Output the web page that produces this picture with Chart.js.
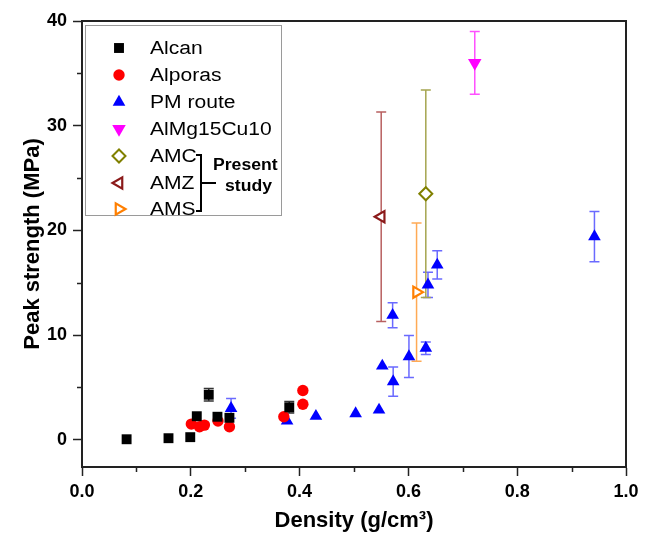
<!DOCTYPE html>
<html>
<head>
<meta charset="utf-8">
<script src="https://cdn.jsdelivr.net/npm/chart.js@4.4.1/dist/chart.umd.min.js"></script>
<style>
  html, body { margin: 0; padding: 0; background: #fff; }
  #wrap { width: 651px; height: 535px; }
</style>
</head>
<body>
<div id="wrap"><canvas id="chart" width="651" height="535"></canvas></div>
<script>
// Peak strength vs density for Al foams (scatter with error bars)
const FONT = "'Liberation Sans', Arial, Helvetica, sans-serif";

const ALCAN_X = [0.082, 0.159, 0.199, 0.211, 0.233, 0.249, 0.271, 0.381];
const ALCAN_Y = [0.05, 0.15, 0.25, 2.25, 4.3, 2.2, 2.1, 3.1];
const ALCAN_ERR = [0, 0, 0, 0, 0.6, 0, 0, 0.55];

const ALPORAS_X = [0.201, 0.216, 0.225, 0.25, 0.271, 0.371, 0.406, 0.406];
const ALPORAS_Y = [1.5, 1.25, 1.4, 1.8, 1.25, 2.2, 4.7, 3.4];

const PM_X = [0.274, 0.377, 0.43, 0.503, 0.546, 0.552, 0.572, 0.571, 0.601, 0.632, 0.636, 0.653, 0.942];
const PM_Y = [3.0, 1.8, 2.25, 2.5, 2.85, 7.05, 5.55, 11.9, 7.95, 8.75, 14.8, 16.7, 19.4];
const PM_ERR = [0.95, 0, 0, 0, 0, 0, 1.4, 1.2, 2.0, 0.6, 1.2, 1.35, 2.4];

const MG_X = [0.722], MG_Y = [36.0], MG_ERR = [3.0];
const AMC_X = [0.632], AMC_Y = [23.5], AMC_ERR = [9.9];
const AMZ_X = [0.55], AMZ_Y = [21.3], AMZ_ERR = [10.0];
const AMS_X = [0.615], AMS_Y = [14.1], AMS_ERR = [6.6];

const X_TICKS = [0, 0.1, 0.2, 0.3, 0.4, 0.5, 0.6, 0.7, 0.8, 0.9, 1.0];
const X_LABELS = ['0.0', '', '0.2', '', '0.4', '', '0.6', '', '0.8', '', '1.0'];
const Y_TICKS = [0, 5, 10, 15, 20, 25, 30, 35, 40];
const Y_LABELS = ['0', '', '10', '', '20', '', '30', '', '40'];

function pts(xs, ys) { return xs.map((x, i) => ({ x: x, y: ys[i] })); }

const datasets = [
  { label: 'Alcan', data: pts(ALCAN_X, ALCAN_Y), errors: ALCAN_ERR, errorColor: '#333',
    pointStyle: 'rect', pointRadius: 7, backgroundColor: '#000', borderColor: '#000', borderWidth: 0 },
  { label: 'Alporas', data: pts(ALPORAS_X, ALPORAS_Y),
    pointStyle: 'circle', pointRadius: 5.7, backgroundColor: '#ff0000', borderColor: '#ff0000', borderWidth: 0 },
  { label: 'PM route', data: pts(PM_X, PM_Y), errors: PM_ERR, errorColor: '#6a6aff',
    pointStyle: 'triangle', pointRadius: 7.3, backgroundColor: '#0000ff', borderColor: '#0000ff', borderWidth: 0 },
  { label: 'AlMg15Cu10', data: pts(MG_X, MG_Y), errors: MG_ERR, errorColor: '#ff50ff',
    pointStyle: 'triangle', pointRotation: 180, pointRadius: 7.8, backgroundColor: '#ff00ff', borderColor: '#ff00ff', borderWidth: 0 },
  { label: 'AMC', data: pts(AMC_X, AMC_Y), errors: AMC_ERR, errorColor: '#a5a550',
    pointStyle: 'rectRot', pointRadius: 6.5, backgroundColor: '#fff', borderColor: '#808000', borderWidth: 2 },
  { label: 'AMZ', data: pts(AMZ_X, AMZ_Y), errors: AMZ_ERR, errorColor: '#b86060',
    pointStyle: 'triangle', pointRotation: -90, pointRadius: 6.5, backgroundColor: '#fff', borderColor: '#8b1a1a', borderWidth: 2.2 },
  { label: 'AMS', data: pts(AMS_X, AMS_Y), errors: AMS_ERR, errorColor: '#ffaa55',
    pointStyle: 'triangle', pointRotation: 90, pointRadius: 6.5, backgroundColor: '#fff', borderColor: '#ff7f00', borderWidth: 2.2 },
];

// vertical error bars, drawn under the markers
const errorBars = {
  id: 'errorBars',
  beforeDatasetsDraw(chart) {
    const ctx = chart.ctx, xs = chart.scales.x, ys = chart.scales.y;
    ctx.save();
    ctx.lineWidth = 1.5;
    chart.data.datasets.forEach(ds => {
      if (!ds.errors) return;
      ctx.strokeStyle = ds.errorColor;
      ds.data.forEach((p, i) => {
        const e = ds.errors[i];
        if (!e) return;
        const x = xs.getPixelForValue(p.x);
        const y1 = ys.getPixelForValue(p.y + e), y2 = ys.getPixelForValue(p.y - e);
        ctx.beginPath();
        ctx.moveTo(x, y1); ctx.lineTo(x, y2);
        ctx.moveTo(x - 5, y1); ctx.lineTo(x + 5, y1);
        ctx.moveTo(x - 5, y2); ctx.lineTo(x + 5, y2);
        ctx.stroke();
      });
    });
    ctx.restore();
  }
};

// short minor ticks + top/right frame
const frame = {
  id: 'frame',
  afterDraw(chart) {
    const ctx = chart.ctx, a = chart.chartArea;
    const xs = chart.scales.x, ys = chart.scales.y;
    ctx.save();
    ctx.strokeStyle = '#222';
    ctx.lineWidth = 1.5;
    ctx.beginPath();
    X_TICKS.forEach((v, i) => {
      if (X_LABELS[i]) return;
      const x = Math.round(xs.getPixelForValue(v)) + 0.5;
      ctx.moveTo(x, a.bottom); ctx.lineTo(x, a.bottom + 5);
    });
    Y_TICKS.forEach((v, i) => {
      if (Y_LABELS[i]) return;
      const y = Math.round(ys.getPixelForValue(v)) + 0.5;
      ctx.moveTo(a.left, y); ctx.lineTo(a.left - 5, y);
    });
    ctx.stroke();
    ctx.lineWidth = 2;
    ctx.beginPath();
    ctx.moveTo(a.left, a.top); ctx.lineTo(a.right, a.top); ctx.lineTo(a.right, a.bottom);
    ctx.stroke();
    ctx.restore();
  }
};

// text a little wider than the font, as in the source figure
function wideText(ctx, txt, x, y, sx) {
  ctx.save();
  ctx.translate(x, y);
  ctx.scale(sx, 1);
  ctx.fillText(txt, 0, 0);
  ctx.restore();
}

// boxed legend in the upper left with the "Present study" bracket
const boxLegend = {
  id: 'boxLegend',
  afterDraw(chart) {
    const ctx = chart.ctx;
    const left = 85.5, top = 25.5, right = 281.5, bottom = 215.5;
    const rows = [48, 75, 102, 129, 156, 183, 209];
    ctx.save();
    ctx.strokeStyle = '#9a9a9a';
    ctx.lineWidth = 1;
    ctx.strokeRect(left, top, right - left, bottom - top);
    ctx.font = '18px ' + FONT;
    ctx.textBaseline = 'middle';
    ctx.textAlign = 'left';
    chart.data.datasets.forEach((ds, i) => {
      ctx.fillStyle = ds.backgroundColor;
      ctx.strokeStyle = ds.borderColor;
      ctx.lineWidth = ds.borderWidth;
      if (Chart.helpers && Chart.helpers.drawPoint) {
        Chart.helpers.drawPoint(ctx, {
          pointStyle: ds.pointStyle, rotation: ds.pointRotation || 0,
          radius: ds.pointRadius, borderWidth: ds.borderWidth
        }, 119, rows[i]);
      }
      ctx.fillStyle = '#000';
      wideText(ctx, ds.label, 150, rows[i] + 1, 1.17);
    });
    // bracket
    ctx.strokeStyle = '#000';
    ctx.lineWidth = 2;
    ctx.beginPath();
    ctx.moveTo(196, 155); ctx.lineTo(201, 155); ctx.lineTo(201, 211); ctx.lineTo(196, 211);
    ctx.moveTo(201, 183); ctx.lineTo(216, 183);
    ctx.stroke();
    ctx.font = 'bold 16px ' + FONT;
    ctx.fillStyle = '#000';
    wideText(ctx, 'Present', 213, 166, 1.1);
    wideText(ctx, 'study', 225, 187, 1.1);
    ctx.restore();
  }
};

new Chart(document.getElementById('chart'), {
  type: 'scatter',
  data: { datasets: datasets },
  options: {
    responsive: false,
    animation: false,
    layout: { padding: { left: 20, top: 21, right: 25, bottom: 0 } },
    plugins: { legend: { display: false }, tooltip: { enabled: false } },
    scales: {
      x: {
        type: 'linear', min: 0, max: 1.0,
        afterBuildTicks: s => { s.ticks = X_TICKS.map(v => ({ value: v })); },
        afterFit: s => { s.height = 68; },
        ticks: { autoSkip: false, maxRotation: 0, padding: 5, color: '#000',
          font: { family: FONT, size: 18, weight: 'bold' },
          callback: (v, i) => X_LABELS[i] },
        grid: { drawOnChartArea: false, drawTicks: true, tickLength: 9, tickWidth: 1.5,
          tickColor: c => (X_LABELS[c.index] ? '#222' : 'rgba(0,0,0,0)') },
        border: { display: true, color: '#222', width: 2 },
        title: { display: true, text: 'Density (g/cm\u00b3)', color: '#000',
          font: { family: FONT, size: 22, weight: 'bold' }, padding: { top: 0, bottom: 1 } }
      },
      y: {
        type: 'linear', min: -2.6, max: 40,
        afterBuildTicks: s => { s.ticks = Y_TICKS.map(v => ({ value: v })); },
        afterFit: s => { s.width = 62; },
        ticks: { autoSkip: false, padding: 6, color: '#000',
          font: { family: FONT, size: 18, weight: 'bold' },
          callback: (v, i) => Y_LABELS[i] },
        grid: { drawOnChartArea: false, drawTicks: true, tickLength: 9, tickWidth: 1.5,
          tickColor: c => (Y_LABELS[c.index] ? '#222' : 'rgba(0,0,0,0)') },
        border: { display: true, color: '#222', width: 2 },
        title: { display: true, text: 'Peak strength (MPa)', color: '#000',
          font: { family: FONT, size: 22, weight: 'bold' }, padding: { top: 0, bottom: 0 } }
      }
    }
  },
  plugins: [errorBars, frame, boxLegend]
});
</script>
</body>
</html>
